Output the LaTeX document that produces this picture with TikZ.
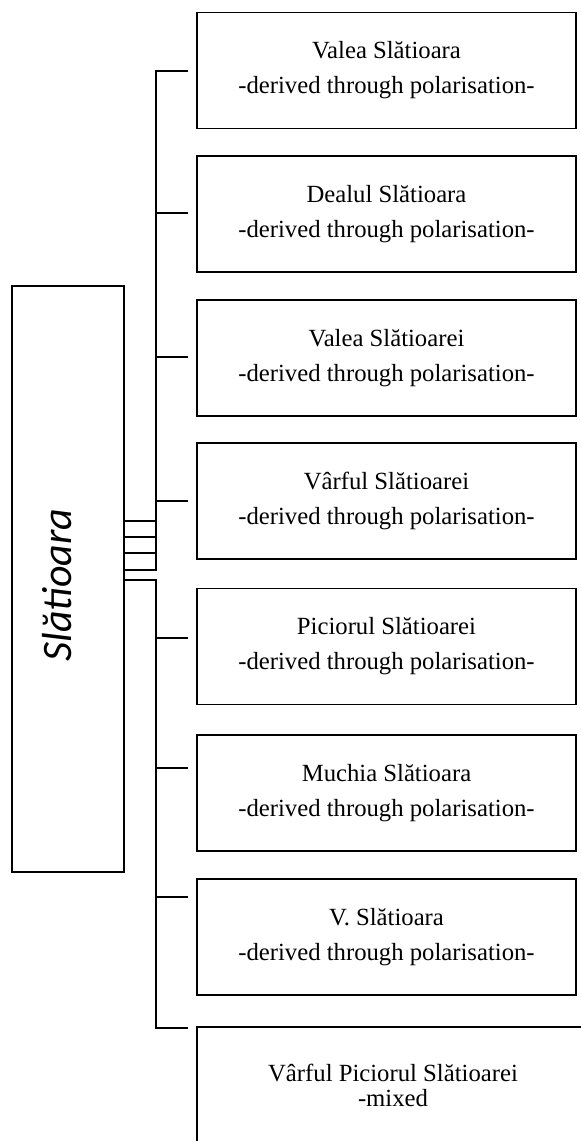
\documentclass[tikz,border=0pt]{standalone}
\usepackage{fontspec}
\setmainfont{Liberation Serif}
\newfontfamily\rootfont{Carlito}
\usepackage{tikz}
\usetikzlibrary{calc}

\begin{document}
\begin{tikzpicture}[x=1pt, y=-1pt, line width=1.8pt,
  placebox/.style={draw, outer sep=0pt, inner sep=0pt, align=center,
    minimum width=379pt, minimum height=116pt,
    font=\fontsize{24.7}{35}\selectfont},
  rootbox/.style={draw, outer sep=0pt, minimum width=112pt, minimum height=586pt}]

\useasboundingbox (0,0) rectangle (581,1141);

% Root name
\node[rootbox] (root) at (68,579) {};
\node[rotate=90, font=\rootfont\itshape\fontsize{42}{42}\selectfont] (rootname) at (57,585) {Slătioara};

% Derived names
\node[placebox] (b1) at (386.5,70.5) {Valea Slătioara\\-derived through polarisation-};
\node[placebox] (b2) at (386.5,214) {Dealul Slătioara\\-derived through polarisation-};
\node[placebox] (b3) at (386.5,358) {Valea Slătioarei\\-derived through polarisation-};
\node[placebox] (b4) at (386.5,501) {Vârful Slătioarei\\-derived through polarisation-};
\node[placebox] (b5) at (386.5,646.5) {Piciorul Slătioarei\\-derived through polarisation-};
\node[placebox] (b6) at (386.5,793) {Muchia Slătioara\\-derived through polarisation-};
\node[placebox] (b7) at (386.5,937) {V. Slătioara\\-derived through polarisation-};
\node[placebox, minimum width=392pt, font=\fontsize{24.7}{25}\selectfont] (b8) at (393,1085) {Vârful Piciorul Slătioarei\\-mixed};

% Stub ends next to the boxes
\foreach \n/\y in {1/71,2/213,3/357,4/501,5/638,6/768,7/897,8/1028}
  \coordinate (s\n) at (188,\y);
\coordinate (upjoin) at (156,570);
\coordinate (lowjoin) at (156,580);

% Upper bracket
\draw (s1) -| (upjoin) -- (upjoin -| root.east);
\foreach \n in {2,3,4}
  \draw (s\n) -- (s\n -| upjoin);
\foreach \y in {521,537,553}
  \draw (root.east |- 0,\y) -- (upjoin |- 0,\y);

% Lower bracket
\draw (lowjoin -| root.east) -- (lowjoin) |- (s8);
\foreach \n in {5,6,7}
  \draw (s\n) -- (s\n -| lowjoin);
\end{tikzpicture}
\end{document}
